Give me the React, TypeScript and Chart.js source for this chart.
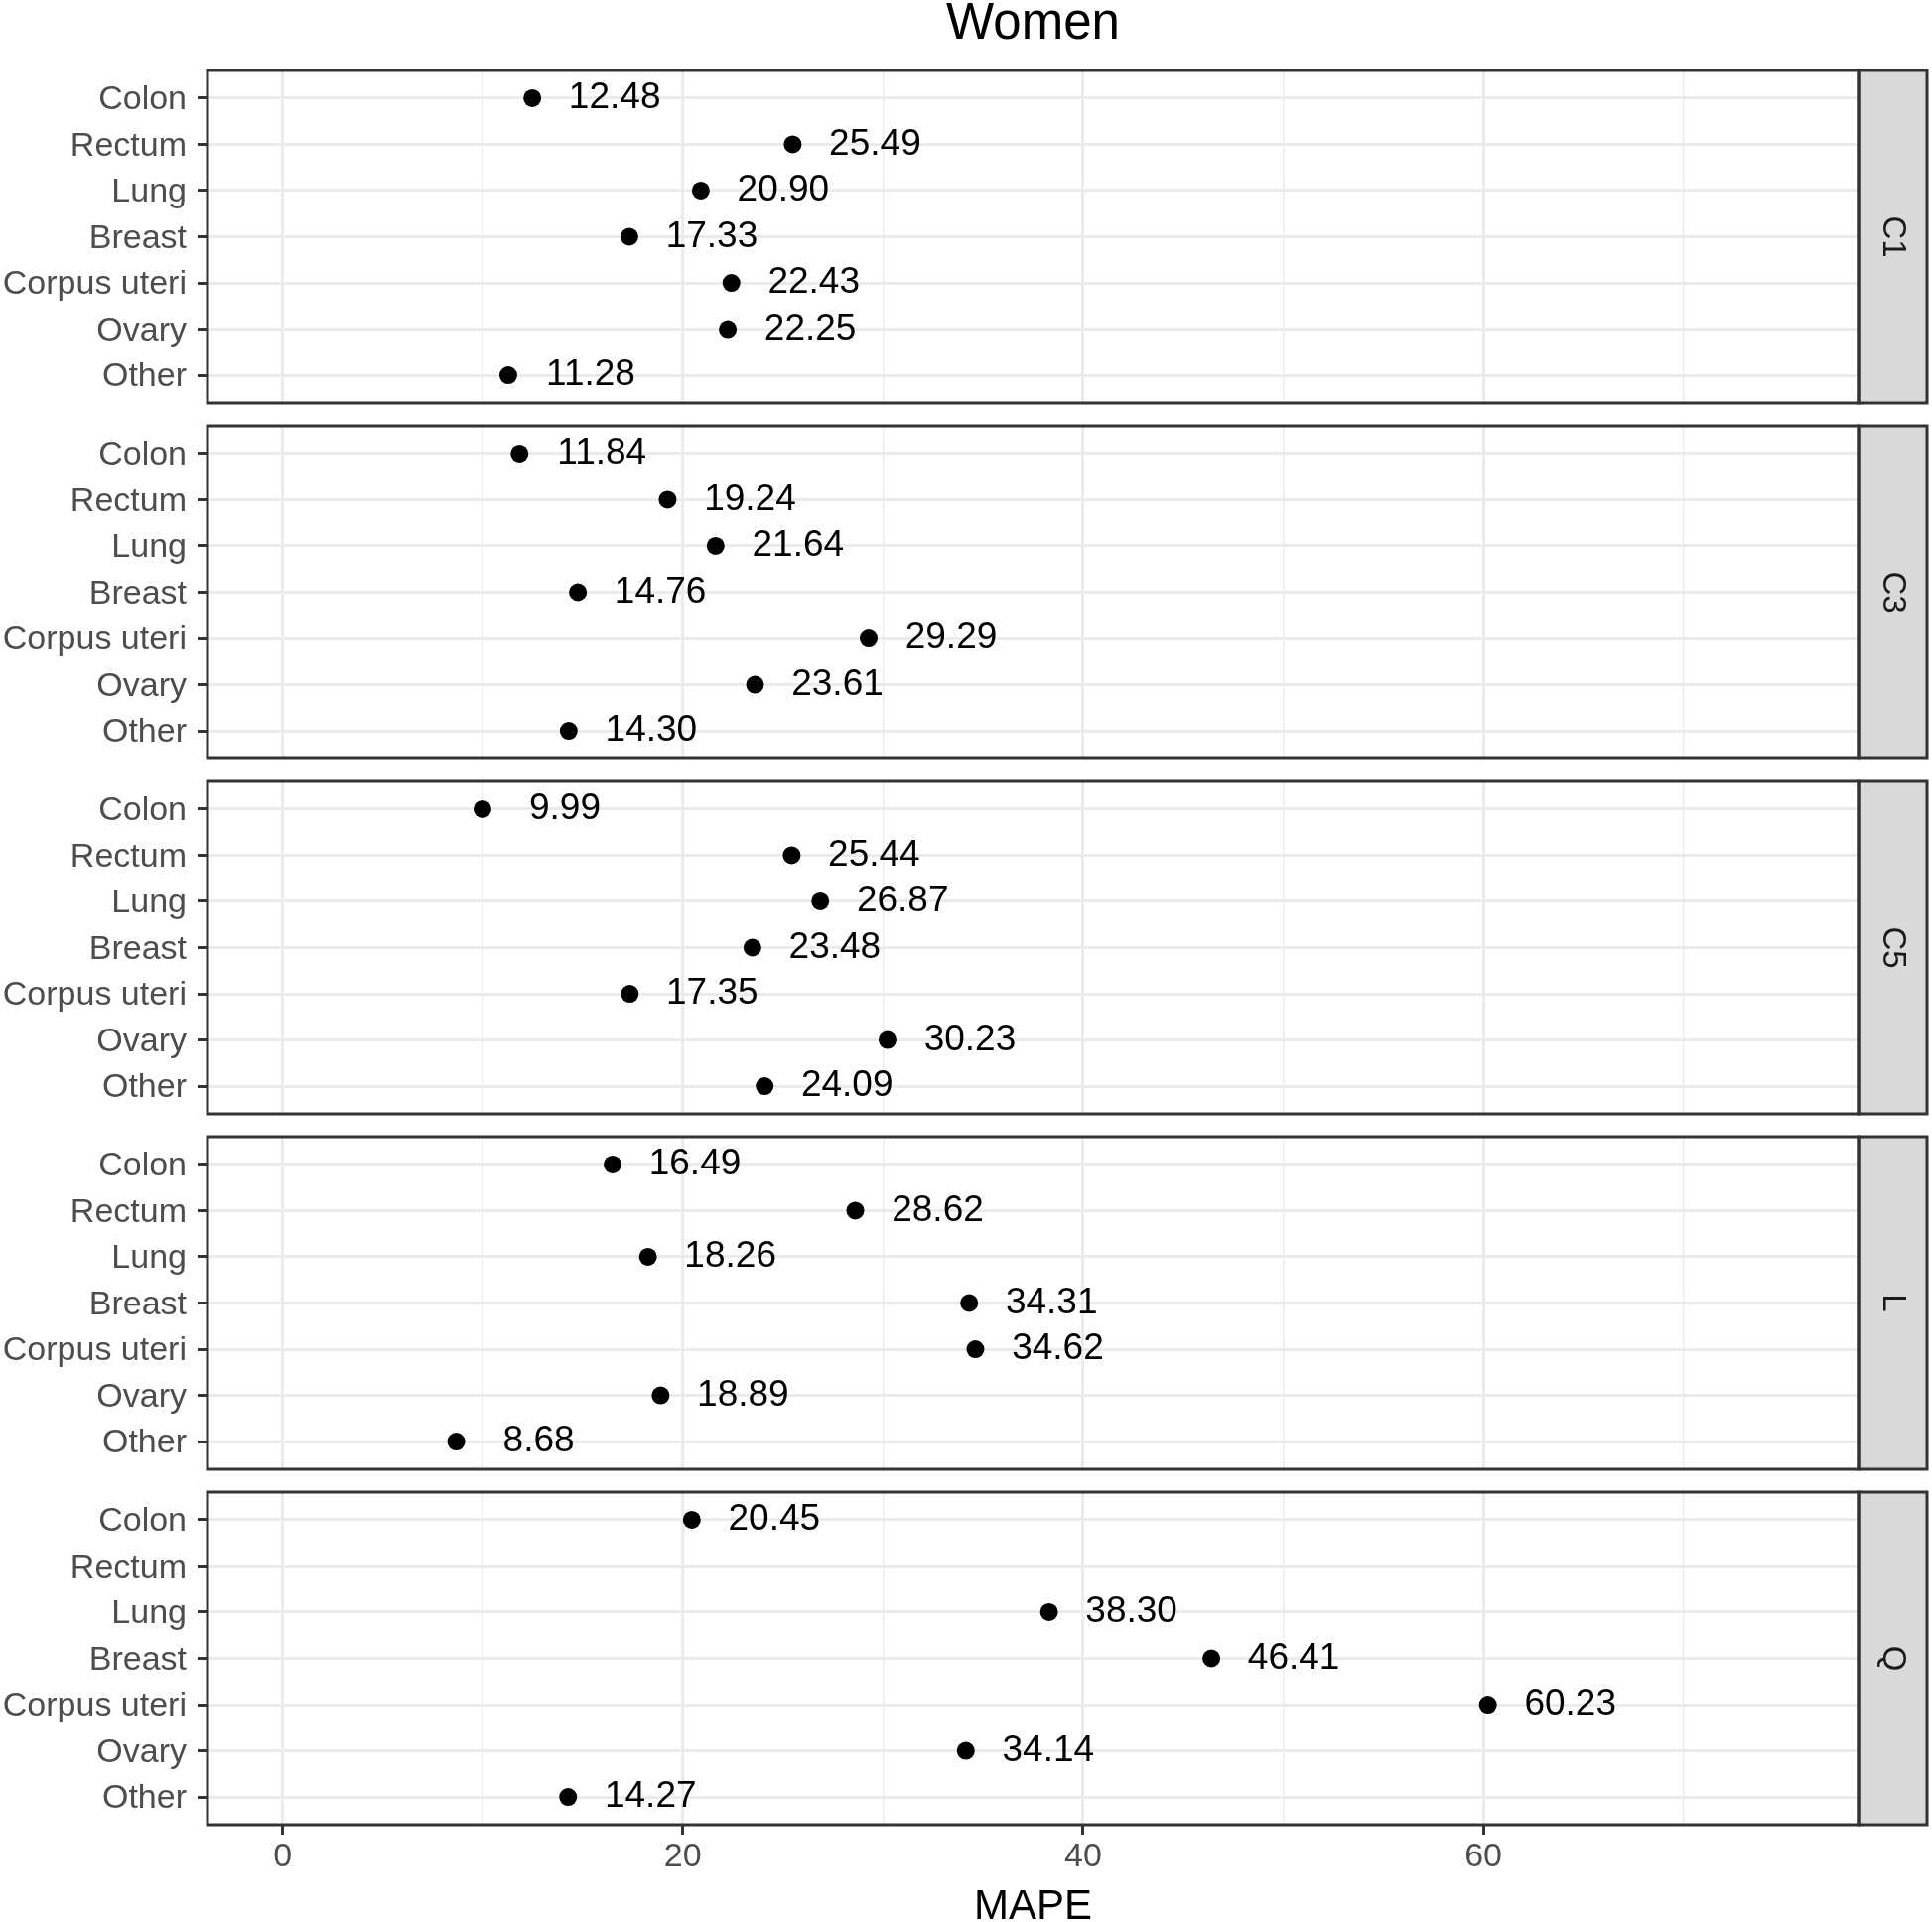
import React, { useEffect, useRef } from 'react';
import { Chart, registerables } from 'chart.js';

Chart.register(...registerables);

// ---------- data ----------
const categories = ['Colon', 'Rectum', 'Lung', 'Breast', 'Corpus uteri', 'Ovary', 'Other'];
const panelNames = ['C1', 'C3', 'C5', 'L', 'Q'];
const c1Values: (number | null)[] = [12.48, 25.49, 20.9, 17.33, 22.43, 22.25, 11.28];
const c3Values: (number | null)[] = [11.84, 19.24, 21.64, 14.76, 29.29, 23.61, 14.3];
const c5Values: (number | null)[] = [9.99, 25.44, 26.87, 23.48, 17.35, 30.23, 24.09];
const lValues: (number | null)[] = [16.49, 28.62, 18.26, 34.31, 34.62, 18.89, 8.68];
const qValues: (number | null)[] = [20.45, null, 38.3, 46.41, 60.23, 34.14, 14.27];
const panelValues = [c1Values, c3Values, c5Values, lValues, qValues];
const xTickValues = [0, 10, 20, 30, 40, 50, 60, 70];
const xLabeledTicks = [0, 20, 40, 60];
const xMin = -3.75;
const xMax = 78.75;
const plotTitle = 'Women';
const xAxisTitle = 'MAPE';

// ---------- layout / style ----------
const W = 1946;
const H = 1936;
const PANEL_LEFT = 209;
const PANEL_RIGHT = 1872;
const STRIP_W = 69;
const PANEL_H = 335;
const PANEL_STEP = 358;
const FIRST_TOP = 71;
const FONT = '"Liberation Sans", Arial, Helvetica, sans-serif';
const GRID = '#EBEBEB';
const DARK = '#333333';
const AXIS_TEXT = '#4D4D4D';
const TITLE_SIZE = 51;
const TITLE_LH = 0.8;
const TITLE_PAD_TOP = 5;

Chart.defaults.font.family = FONT;

function panelGeometry(i: number) {
  const panelTop = FIRST_TOP + PANEL_STEP * i;
  const isFirst = i === 0;
  const isLast = i === panelNames.length - 1;
  const canvasTop = isFirst ? 0 : panelTop - 12;
  const canvasBottom = isLast ? H : panelTop + PANEL_H + 11;
  return { panelTop, isFirst, isLast, canvasTop, canvasBottom, height: canvasBottom - canvasTop };
}

function zeroPadding(s: any) {
  s.paddingTop = 0;
  s.paddingBottom = 0;
  s.paddingLeft = 0;
  s.paddingRight = 0;
}

function Panel({ index }: { index: number }) {
  const ref = useRef<HTMLCanvasElement | null>(null);
  const g = panelGeometry(index);

  useEffect(() => {
    if (!ref.current) return;
    const values = panelValues[index];
    const name = panelNames[index];
    const { panelTop, isFirst, isLast, canvasTop, canvasBottom } = g;

    const framePlugin = {
      id: 'frame' + index,
      afterDatasetsDraw(chart: any) {
        const { ctx } = chart;
        const xs = chart.scales.x;
        const ys = chart.scales.y;
        ctx.save();
        ctx.font = `37px ${FONT}`;
        ctx.fillStyle = '#000000';
        ctx.textAlign = 'center';
        ctx.textBaseline = 'middle';
        values.forEach((v, k) => {
          if (v == null) return;
          ctx.fillText(v.toFixed(2), xs.getPixelForValue(v) + 83, ys.getPixelForValue(k));
        });
        ctx.restore();
      },
      afterDraw(chart: any) {
        const { ctx, chartArea } = chart;
        const { left, top, right, bottom } = chartArea;
        ctx.save();
        ctx.fillStyle = '#D9D9D9';
        ctx.fillRect(right, top, STRIP_W, bottom - top);
        ctx.strokeStyle = DARK;
        ctx.lineWidth = 3;
        ctx.strokeRect(right, top, STRIP_W, bottom - top);
        ctx.strokeRect(left, top, right - left, bottom - top);
        ctx.translate(right + STRIP_W / 2, (top + bottom) / 2);
        ctx.rotate(Math.PI / 2);
        ctx.font = `33px ${FONT}`;
        ctx.fillStyle = '#1A1A1A';
        ctx.textAlign = 'center';
        ctx.textBaseline = 'middle';
        ctx.fillText(name, 0, 0);
        ctx.restore();
      },
    };

    const isMajor = (v: number) => xLabeledTicks.includes(v);

    const chart = new Chart(ref.current, {
      type: 'scatter',
      data: {
        datasets: [
          {
            data: values
              .map((v, k) => (v == null ? null : { x: v, y: k }))
              .filter((p) => p !== null) as any,
            backgroundColor: '#000000',
            borderWidth: 0,
            pointRadius: 9,
            pointHoverRadius: 9,
          },
        ],
      },
      options: {
        responsive: false,
        maintainAspectRatio: false,
        animation: false,
        devicePixelRatio: 1,
        events: [],
        layout: {
          padding: {
            left: 0,
            right: W - PANEL_RIGHT,
            top: isFirst ? 0 : panelTop - canvasTop,
            bottom: isLast ? 0 : canvasBottom - (panelTop + PANEL_H),
          },
        },
        plugins: {
          legend: { display: false },
          tooltip: { enabled: false },
          title: {
            display: isFirst,
            text: plotTitle,
            fullSize: false,
            color: '#000000',
            font: { size: TITLE_SIZE, lineHeight: TITLE_LH, weight: 'normal' },
            padding: { top: TITLE_PAD_TOP, bottom: FIRST_TOP - TITLE_SIZE * TITLE_LH - TITLE_PAD_TOP },
          },
        },
        scales: {
          x: {
            type: 'linear',
            min: xMin,
            max: xMax,
            afterBuildTicks: (s: any) => {
              s.ticks = xTickValues.map((value) => ({ value }));
            },
            afterFit: (s: any) => {
              s.height = isLast ? H - (panelTop + PANEL_H) : 0;
              zeroPadding(s);
            },
            border: { display: false },
            grid: {
              color: GRID,
              lineWidth: (c: any) => (c.tick && isMajor(c.tick.value) ? 3 : 1.5),
              drawTicks: isLast,
              tickLength: 10,
              tickColor: (c: any) => (c.tick && isMajor(c.tick.value) ? DARK : 'rgba(0,0,0,0)'),
              tickWidth: 3,
            },
            ticks: {
              display: isLast,
              autoSkip: false,
              maxRotation: 0,
              padding: 2,
              color: AXIS_TEXT,
              font: { size: 34, lineHeight: 1.2 },
              callback: (v: any) => (isMajor(Number(v)) ? String(v) : ''),
            },
            title: {
              display: isLast,
              text: xAxisTitle,
              color: '#000000',
              font: { size: 42, lineHeight: 0.9 },
              padding: { top: 0, bottom: -4 },
            },
          },
          y: {
            type: 'linear',
            reverse: true,
            min: -0.6,
            max: categories.length - 1 + 0.6,
            afterBuildTicks: (s: any) => {
              s.ticks = categories.map((_, k) => ({ value: k }));
            },
            afterFit: (s: any) => {
              s.width = PANEL_LEFT;
              zeroPadding(s);
            },
            border: { display: false },
            grid: {
              color: GRID,
              lineWidth: 3,
              tickLength: 10,
              tickColor: DARK,
              tickWidth: 3,
            },
            ticks: {
              autoSkip: false,
              padding: 11,
              labelOffset: 2,
              color: AXIS_TEXT,
              font: { size: 34 },
              callback: (v: any) => categories[Number(v)] ?? '',
            },
          },
        },
      },
      plugins: [framePlugin],
    } as any);

    return () => chart.destroy();
  }, [index]);

  return (
    <canvas
      ref={ref}
      width={W}
      height={g.height}
      style={{ position: 'absolute', left: 0, top: g.canvasTop, width: W, height: g.height, display: 'block' }}
    />
  );
}

export default function App() {
  return (
    <div style={{ position: 'absolute', left: 0, top: 0, width: W, height: H, background: '#ffffff', overflow: 'hidden' }}>
      {panelNames.map((_, i) => (
        <Panel key={i} index={i} />
      ))}
    </div>
  );
}
